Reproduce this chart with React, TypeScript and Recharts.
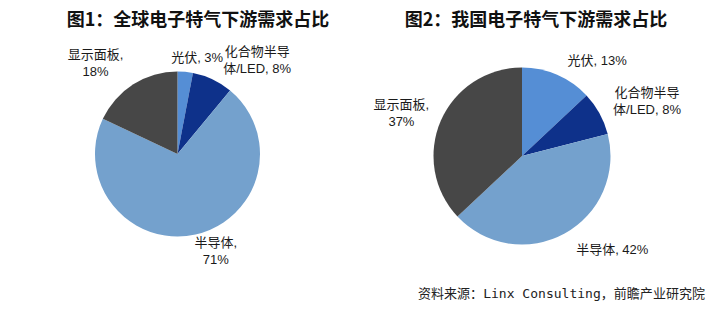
import React from "react";
import { PieChart, Pie, Cell } from "recharts";

const categories = ["光伏", "化合物半导体/LED", "半导体", "显示面板"];
const globalShare = [3, 8, 71, 18];
const chinaShare = [13, 8, 42, 37];

const globalLabels = [["光伏, 3%"], ["化合物半导", "体/LED, 8%"], ["半导体,", "71%"], ["显示面板,", "18%"]];
const chinaLabels = [["光伏, 13%"], ["化合物半导", "体/LED, 8%"], ["半导体, 42%"], ["显示面板,", "37%"]];

const colors = ["#558ED5", "#0E318A", "#74A1CD", "#474747"];

const globalNudge = [[10, 5], [36, -2], [16, -4], [-27, -5]];
const chinaNudge = [[32, 4], [30, -3], [38, -2], [-21, 0]];

const globalData = categories.map((name, i) => ({ name, value: globalShare[i] }));
const chinaData = categories.map((name, i) => ({ name, value: chinaShare[i] }));

const RAD = Math.PI / 180;
const latin = "'Liberation Sans', Arial, 'Noto Sans CJK SC', sans-serif";

function makeLabel(lines: string[][], nudge: number[][]) {
  return (props: any) => {
    const { cx, cy, midAngle, outerRadius, index } = props;
    const r = outerRadius + 20;
    const x = cx + r * Math.cos(-midAngle * RAD) + nudge[index][0];
    const y = cy + r * Math.sin(-midAngle * RAD) + nudge[index][1];
    const ls = lines[index];
    const lh = 17;
    const y0 = y - ((ls.length - 1) * lh) / 2;
    return (
      <text
        key={`l-${index}`}
        x={x}
        y={y0}
        textAnchor="middle"
        dominantBaseline="central"
        fill="#1a1a1a"
        fontSize={13}
        fontFamily={latin}
      >
        {ls.map((t, k) => (
          <tspan key={k} x={x} y={y0 + k * lh} dominantBaseline="central">
            {t}
          </tspan>
        ))}
      </text>
    );
  };
}

export default function App() {
  return (
    <div style={{ width: 720, height: 310, position: "relative", margin: -8, background: "#fff" }}>
      <PieChart width={720} height={310} margin={{ top: 0, right: 0, bottom: 0, left: 0 }}>
        <text x={198} y={18} textAnchor="middle" dominantBaseline="central" fontSize={18} fontWeight="bold" fill="#111" fontFamily="'Noto Sans CJK SC', sans-serif">
          图1：全球电子特气下游需求占比
        </text>
        <text x={536} y={18} textAnchor="middle" dominantBaseline="central" fontSize={18} fontWeight="bold" fill="#111" fontFamily="'Noto Sans CJK SC', sans-serif">
          图2：我国电子特气下游需求占比
        </text>
        <Pie
          data={globalData}
          dataKey="value"
          nameKey="name"
          cx={177.5}
          cy={154}
          outerRadius={82.5}
          startAngle={90}
          endAngle={-270}
          stroke="none"
          labelLine={false}
          label={makeLabel(globalLabels, globalNudge)}
          isAnimationActive={false}
        >
          {globalData.map((d, i) => (
            <Cell key={d.name} fill={colors[i]} />
          ))}
        </Pie>
        <Pie
          data={chinaData}
          dataKey="value"
          nameKey="name"
          cx={522}
          cy={156}
          outerRadius={88.5}
          startAngle={90}
          endAngle={-270}
          stroke="none"
          labelLine={false}
          label={makeLabel(chinaLabels, chinaNudge)}
          isAnimationActive={false}
        >
          {chinaData.map((d, i) => (
            <Cell key={d.name} fill={colors[i]} />
          ))}
        </Pie>
        <text x={418} y={293} textLength={287} lengthAdjust="spacing" dominantBaseline="central" fontSize={13} fill="#222" fontFamily="'DejaVu Sans Mono', 'Noto Sans CJK SC', monospace">
          资料来源：Linx Consulting，前瞻产业研究院
        </text>
      </PieChart>
    </div>
  );
}
